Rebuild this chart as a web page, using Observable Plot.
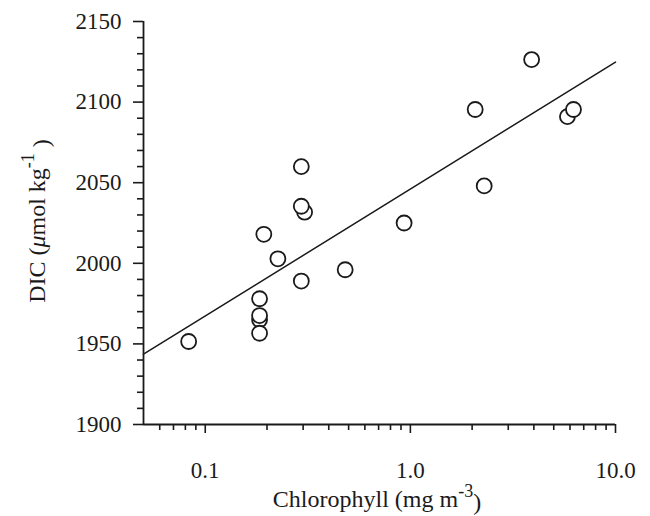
<!DOCTYPE html>
<html>
<head>
<meta charset="utf-8">
<script src="https://cdn.jsdelivr.net/npm/d3@7"></script>
<script src="https://cdn.jsdelivr.net/npm/@observablehq/plot@0.6"></script>
<style>
  html, body { margin: 0; padding: 0; background: white; }
</style>
</head>
<body>
<div id="chart"></div>
<script>
const chl = [0.083, 0.184, 0.184, 0.184, 0.184, 0.193, 0.226, 0.294, 0.305, 0.294, 0.294, 0.481, 0.932, 2.07, 2.29, 3.90, 5.83, 6.24];
const dic = [1951.5, 1978, 1965, 1967.6, 1956.6, 2018, 2002.8, 2060, 2031.7, 2035.4, 1989, 1996, 2025, 2095.4, 2048, 2126.4, 2091, 2095.4];

// Regression line end points
const fitChl = [0.05, 10];
const fitDic = [1943.6, 2124.8];

// Axis ticks
const xMajor = [0.1, 1, 10];
const xMajorLabels = ["0.1", "1.0", "10.0"];
const xMinor = [0.06, 0.07, 0.08, 0.09, 0.2, 0.3, 0.4, 0.5, 0.6, 0.7, 0.8, 0.9, 2, 3, 4, 5, 6, 7, 8, 9];
const yMajor = [1900, 1950, 2000, 2050, 2100, 2150];
const yMinor = [1910, 1920, 1930, 1940, 1960, 1970, 1980, 1990, 2010, 2020, 2030, 2040, 2060, 2070, 2080, 2090, 2110, 2120, 2130, 2140];

const points = chl.map((c, i) => ({chl: c, dic: dic[i]}));
const fit = fitChl.map((c, i) => ({chl: c, dic: fitDic[i]}));

const ink = "#1a1a1a";

const chart = Plot.plot({
  width: 650,
  height: 516,
  marginLeft: 143,
  marginRight: 35,
  marginTop: 21,
  marginBottom: 92,
  x: {type: "log", domain: [0.05, 10]},
  y: {domain: [1900, 2150]},
  style: {
    fontFamily: "'Liberation Serif', 'Times New Roman', serif",
    fontSize: "23px",
    color: ink,
    background: "white",
    overflow: "visible"
  },
  marks: [
    Plot.axisY(yMinor, {tickSize: 6, tickFormat: () => "", label: null, strokeWidth: 1.6}),
    Plot.axisY(yMajor, {tickSize: 10, tickPadding: 12, label: null, strokeWidth: 1.6, tickFormat: d3.format("d")}),
    Plot.axisX(xMinor, {tickSize: 6, tickFormat: () => "", label: null, strokeWidth: 1.6}),
    Plot.axisX(xMajor, {tickSize: 9, tickPadding: 28, label: null, strokeWidth: 1.6,
      tickFormat: d => xMajorLabels[xMajor.indexOf(d)]}),
    Plot.ruleX([0.05], {stroke: ink, strokeWidth: 1.8}),
    Plot.ruleY([1900], {stroke: ink, strokeWidth: 1.8}),
    Plot.line(fit, {x: "chl", y: "dic", stroke: ink, strokeWidth: 1.5}),
    Plot.dot(points, {x: "chl", y: "dic", r: 7.5, stroke: ink, strokeWidth: 1.8, fill: "white"})
  ]
});

const svg = d3.select(chart);

// x-axis title
const xt = svg.append("text")
  .attr("x", 377).attr("y", 507)
  .attr("text-anchor", "middle")
  .attr("font-size", 24)
  .attr("fill", ink);
xt.append("tspan").text("Chlorophyll (mg m");
xt.append("tspan").attr("dy", "-0.55em").attr("font-size", 18).text("-3");
xt.append("tspan").attr("dy", "0.55em").text(")");

// y-axis title
const yt = svg.append("text")
  .attr("transform", "translate(45,221) rotate(-90)")
  .attr("text-anchor", "middle")
  .attr("font-size", 24)
  .attr("fill", ink);
yt.append("tspan").text("DIC (");
yt.append("tspan").attr("font-style", "italic").text("\u03bc");
yt.append("tspan").text("mol kg");
yt.append("tspan").attr("dy", "-0.6em").attr("font-size", 18).text("-1");
yt.append("tspan").attr("dy", "0.6em").text(" )");

document.getElementById("chart").appendChild(chart);
</script>
</body>
</html>
